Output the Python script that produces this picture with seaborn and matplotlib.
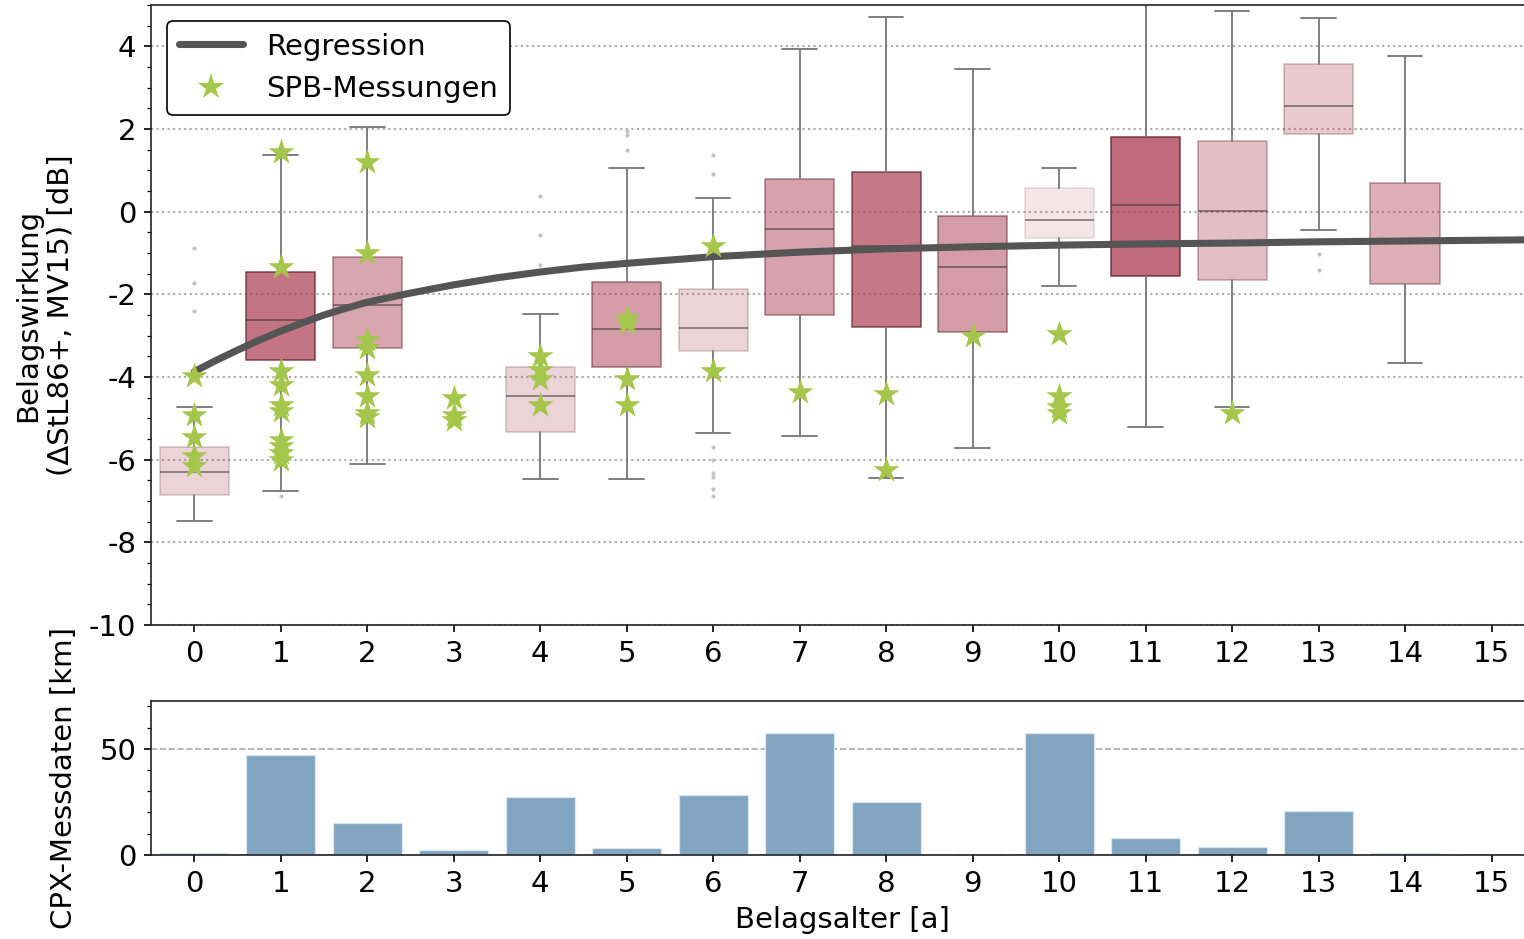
import matplotlib
matplotlib.use("Agg")
import matplotlib.pyplot as plt
import numpy as np
import seaborn as sns
from matplotlib.colors import to_rgba
from matplotlib.lines import Line2D
from matplotlib.ticker import MultipleLocator

# ── data ──────────────────────────────────────────────────────────────────────
ages = list(range(16))

# box statistics per pavement age (ages 3 and 15 have no box)
box_ages = [0, 1, 2, 4, 5, 6, 7, 8, 9, 10, 11, 12, 13, 14]
box_med = [-6.31, -2.61, -2.25, -4.45, -2.85, -2.81, -0.41, -0.82, -1.33, -0.21, 0.15, 0.02, 2.56, -0.65]
box_q1 = [-6.85, -3.60, -3.31, -5.32, -3.75, -3.36, -2.49, -2.78, -2.90, -0.64, -1.55, -1.65, 1.87, -1.74]
box_q3 = [-5.69, -1.45, -1.09, -3.77, -1.69, -1.87, 0.80, 0.95, -0.10, 0.58, 1.80, 1.70, 3.56, 0.70]
box_lo = [-7.48, -6.75, -6.10, -6.46, -6.46, -5.35, -5.42, -6.44, -5.73, -1.80, -5.22, -4.73, -0.44, -3.65]
box_hi = [-4.72, 1.38, 2.06, -2.47, 1.06, 0.33, 3.94, 4.72, 3.44, 1.06, 5.40, 4.85, 4.69, 3.76]
box_alpha = [0.22, 0.70, 0.45, 0.22, 0.50, 0.22, 0.47, 0.68, 0.50, 0.13, 0.75, 0.33, 0.27, 0.40]
box_fliers = [
    [-0.87, -1.72, -2.40],
    [-6.87],
    [],
    [0.39, -0.56, -1.28],
    [1.95, 1.85, 1.48],
    [1.36, 0.90, -5.69, -6.02, -6.32, -6.41, -6.70, -6.89],
    [], [], [], [], [], [],
    [-1.02, -1.40],
    [],
]

# SPB measurements
spb_age = [0, 0, 0, 0, 0,
           1, 1, 1, 1, 1, 1, 1, 1, 1, 1,
           2, 2, 2, 2, 2, 2, 2, 2,
           3, 3, 3,
           4, 4, 4, 4,
           5, 5, 5, 5,
           6, 6,
           7,
           8, 8,
           9,
           10, 10, 10, 10,
           12]
spb_val = [-3.98, -4.91, -5.44, -5.92, -6.16,
           1.45, -1.33, -3.86, -4.19, -4.67, -4.83, -5.52, -5.68, -5.84, -6.00,
           1.21, -0.99, -3.10, -3.30, -3.94, -4.47, -4.87, -4.97,
           -4.50, -4.91, -5.03,
           -3.50, -3.82, -4.06, -4.67,
           -2.57, -2.69, -4.05, -4.67,
           -0.84, -3.85,
           -4.37,
           -4.41, -6.24,
           -3.00,
           -2.95, -4.47, -4.72, -4.87,
           -4.86]

# regression curve
reg_x = [0, 0.25, 0.5, 0.75, 1, 1.25, 1.5, 1.75, 2, 2.5, 3, 3.5, 4, 4.5, 5,
         6, 7, 8, 9, 10, 11, 12, 13, 14, 15, 15.5]
reg_y = [-3.87, -3.60, -3.35, -3.11, -2.89, -2.69, -2.50, -2.34, -2.19, -1.97,
         -1.77, -1.60, -1.46, -1.34, -1.25, -1.09, -0.98, -0.90, -0.85, -0.81,
         -0.78, -0.76, -0.73, -0.71, -0.69, -0.68]

# CPX measurement data [km]
cpx_km = [1.0, 47.2, 15.2, 2.4, 27.5, 3.3, 28.0, 57.6, 24.8, 0.0, 57.2, 8.2, 3.8, 20.5, 1.0, 0.4]

BOX_BASE = "#AA3A4F"
BOX_EDGE = "#5C1E2A"
STAR = "#A4C64A"
REG = "#555555"
BAR = "#82A5C2"

sns.set_style("ticks")
plt.rcParams.update({
    "font.family": ["DejaVu Sans"],
    "font.size": 14,
    "axes.labelsize": 14,
    "xtick.labelsize": 14,
    "ytick.labelsize": 14,
    "legend.fontsize": 14,
    "axes.edgecolor": "#222222",
    "axes.unicode_minus": False,
    "text.color": "black",
    "axes.labelcolor": "black",
    "xtick.color": "black",
    "ytick.color": "black",
})

fig = plt.figure(figsize=(10.16, 6.26), dpi=150)
ax1 = fig.add_axes([0.0991, 0.3344, 0.908, 0.6603])
ax2 = fig.add_axes([0.0991, 0.0895, 0.908, 0.1640])

# ── top: boxes ────────────────────────────────────────────────────────────────
stats = []
for i in range(len(box_ages)):
    stats.append({
        "med": box_med[i], "q1": box_q1[i], "q3": box_q3[i],
        "whislo": box_lo[i], "whishi": box_hi[i], "fliers": box_fliers[i],
    })

bp = ax1.bxp(
    stats, positions=box_ages, widths=0.8, patch_artist=True, manage_ticks=False,
    whiskerprops=dict(color="#7a7a7a", linewidth=0.9),
    capprops=dict(color="#7a7a7a", linewidth=0.9),
    medianprops=dict(color="#333333", linewidth=0.9, alpha=0.55),
    flierprops=dict(marker="o", markersize=2, markerfacecolor="#b5b5b5",
                    markeredgewidth=0, alpha=0.8),
    zorder=2,
)
for patch, a in zip(bp["boxes"], box_alpha):
    patch.set_facecolor(to_rgba(BOX_BASE, a))
    patch.set_edgecolor(to_rgba(BOX_EDGE, min(1.0, a * 1.0)))
    patch.set_linewidth(0.8)

# regression + SPB stars
sns.lineplot(x=reg_x, y=reg_y, color=REG, linewidth=3.4, ax=ax1, zorder=3)
sns.scatterplot(x=spb_age, y=spb_val, marker="*", s=175, color=STAR,
                linewidth=0, ax=ax1, zorder=4)

ax1.set_xlim(-0.5, 15.5)
ax1.set_ylim(-10, 5)
ax1.set_xticks(ages)
ax1.set_yticks(np.arange(-10, 5, 2))
ax1.yaxis.set_minor_locator(MultipleLocator(0.5))
ax1.grid(axis="y", which="major", linestyle=":", color="#aaaaaa", linewidth=1.0)
ax1.set_axisbelow(True)
ax1.set_xlabel("")
ax1.set_ylabel("Belagswirkung\n(ΔStL86+, MV15) [dB]")
ax1.yaxis.set_label_coords(-0.055, 0.5)

handles = [
    Line2D([], [], color=REG, linewidth=3.4),
    Line2D([], [], color=STAR, marker="*", linestyle="none", markersize=13,
           markeredgewidth=0),
]
leg = ax1.legend(handles, ["Regression", "SPB-Messungen"], loc="upper left",
                 framealpha=1, edgecolor="black", handlelength=2.2,
                 borderaxespad=0.55)
leg.get_frame().set_linewidth(0.8)

# ── bottom: CPX bars ──────────────────────────────────────────────────────────
sns.barplot(x=ages, y=cpx_km, color=BAR, saturation=1, width=0.8,
            edgecolor="#dde7f0", linewidth=0.6, ax=ax2, zorder=2)
ax2.set_xlim(-0.5, 15.5)
ax2.set_ylim(0, 72.5)
ax2.set_yticks([0, 50])
ax2.yaxis.set_minor_locator(MultipleLocator(10))
ax2.grid(axis="y", which="major", linestyle="--", color="#aaaaaa", linewidth=0.8)
ax2.set_axisbelow(True)
ax2.set_xlabel("Belagsalter [a]")
ax2.set_ylabel("CPX-Messdaten [km]")
ax2.yaxis.set_label_coords(-0.053, 0.5)

fig.savefig("out.png", dpi=150)
